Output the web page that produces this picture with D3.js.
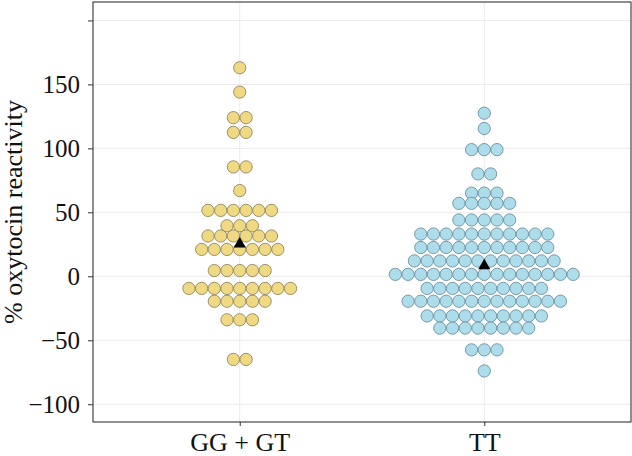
<!DOCTYPE html>
<html>
<head>
<meta charset="utf-8">
<script src="https://cdn.jsdelivr.net/npm/d3@7"></script>
<style>
  html, body { margin: 0; padding: 0; background: #fff; }
  svg { display: block; }
  svg text { font-family: "Liberation Serif", "Times New Roman", Times, serif !important; fill: #111; }
</style>
</head>
<body>
<svg id="chart" width="632" height="456"></svg>
<script>
// ---- data ----
const categories = ["GG + GT", "TT"];
const ggValues = [
  163, 144, 124, 124, 112.5, 112.5, 85.5, 85.5, 67,
  51.5, 51.5, 51.5, 51.5, 51.5, 51.5,
  39.5, 39.5, 39.5,
  31.5, 31.5, 31.5, 31.5, 31.5, 31.5,
  21, 21, 21, 21, 21, 21, 21,
  4.5, 4.5, 4.5, 4.5, 4.5,
  -9.5, -9.5, -9.5, -9.5, -9.5, -9.5, -9.5, -9.5, -9.5,
  -19.5, -19.5, -19.5, -19.5, -19.5,
  -34, -34, -34,
  -65, -65
];
const ttValues = [
  127.5, 115.5, 99, 99, 99, 80, 80, 65, 65, 65,
  57, 57, 57, 57, 57,
  44, 44, 44, 44, 44,
  33, 33, 33, 33, 33, 33, 33, 33, 33, 33, 33,
  22.5, 22.5, 22.5, 22.5, 22.5, 22.5, 22.5, 22.5, 22.5, 22.5, 22.5,
  12, 12, 12, 12, 12, 12, 12, 12, 12, 12, 12, 12,
  1.5, 1.5, 1.5, 1.5, 1.5, 1.5, 1.5, 1.5, 1.5, 1.5, 1.5, 1.5, 1.5, 1.5, 1.5,
  -9.5, -9.5, -9.5, -9.5, -9.5, -9.5, -9.5, -9.5, -9.5, -9.5,
  -19.5, -19.5, -19.5, -19.5, -19.5, -19.5, -19.5, -19.5, -19.5, -19.5, -19.5, -19.5, -19.5,
  -31, -31, -31, -31, -31, -31, -31, -31, -31, -31,
  -40.5, -40.5, -40.5, -40.5, -40.5, -40.5, -40.5, -40.5,
  -57.5, -57.5, -57.5,
  -74
];
const yTicks = [200, 150, 100, 50, 0, -50, -100];
const yTickLabels = ["", "150", "100", "50", "0", "\u221250", "\u2212100"];
const fills = ["#EFD983", "#ADDCEA"];
const strokes = ["#857a55", "#5f8593"];
const yTitle = "% oxytocin reactivity";

// ---- layout ----
const svg = d3.select("#chart");
const panel = { left: 93, right: 631, top: 2, bottom: 422 };
const serif = "'Liberation Serif', 'Times New Roman', Times, serif";

const x = d3.scalePoint()
  .domain(categories)
  .range([panel.left, panel.right])
  .padding(0.6); // ggplot-style 0.6 expansion on each side

const y = d3.scaleLinear()
  .domain([-113.9, 214.4])
  .range([panel.bottom, panel.top]);

// gridlines
const grid = svg.append("g");
grid.selectAll("line.gy").data(yTicks).join("line")
  .attr("x1", panel.left).attr("x2", panel.right)
  .attr("y1", d => y(d)).attr("y2", d => y(d))
  .attr("stroke", "#ebebeb").attr("stroke-width", 1);
grid.selectAll("line.gx").data(categories).join("line")
  .attr("x1", d => x(d)).attr("x2", d => x(d))
  .attr("y1", panel.top).attr("y2", panel.bottom)
  .attr("stroke", "#ebebeb").attr("stroke-width", 1);

// dots (stacked, centered)
const dotD = 12.7;
const groups = [ggValues, ttValues];
groups.forEach((vals, gi) => {
  const cat = categories[gi];
  const stacks = d3.groups(vals, v => v);
  const pts = [];
  stacks.forEach(([v, arr]) => {
    const n = arr.length;
    arr.forEach((_, i) => {
      pts.push({ cx: x(cat) + (i - (n - 1) / 2) * dotD, cy: y(v) });
    });
  });
  svg.append("g").selectAll("circle").data(pts).join("circle")
    .attr("cx", d => d.cx).attr("cy", d => d.cy)
    .attr("r", dotD / 2 - 0.2)
    .attr("fill", fills[gi])
    .attr("stroke", strokes[gi])
    .attr("stroke-width", 0.8);
});

// means (triangles)
const means = groups.map(v => d3.mean(v));
svg.append("g").selectAll("path").data(means).join("path")
  .attr("d", d3.symbol().type(d3.symbolTriangle).size(64))
  .attr("transform", (m, i) => `translate(${x(categories[i])},${y(m)})`)
  .attr("fill", "#000");

// panel border
svg.append("rect")
  .attr("x", panel.left).attr("y", panel.top)
  .attr("width", panel.right - panel.left).attr("height", panel.bottom - panel.top)
  .attr("fill", "none").attr("stroke", "#333").attr("stroke-width", 1.1);

// y axis
const yAxis = d3.axisLeft(y).tickValues(yTicks)
  .tickFormat((d, i) => yTickLabels[i]).tickSize(5).tickPadding(8);
const gy = svg.append("g").attr("transform", `translate(${panel.left},0)`).call(yAxis)
  .attr("font-family", serif);
gy.select(".domain").remove();
gy.selectAll(".tick line").attr("stroke", "#333");
gy.selectAll(".tick text").style("font-size", "25px").attr("fill", "#111");

// x axis
const xAxis = d3.axisBottom(x).tickSize(4).tickPadding(7);
const gx = svg.append("g").attr("transform", `translate(0,${panel.bottom})`).call(xAxis)
  .attr("font-family", serif);
gx.select(".domain").remove();
gx.selectAll(".tick line").attr("stroke", "#333");
gx.selectAll(".tick text").style("font-size", "26px").attr("fill", "#111");

// y title
svg.append("text")
  .attr("transform", `translate(22,${(panel.top + panel.bottom) / 2}) rotate(-90)`)
  .attr("text-anchor", "middle")
  .style("font-size", "26px")
  .text(yTitle);
</script>
</body>
</html>
